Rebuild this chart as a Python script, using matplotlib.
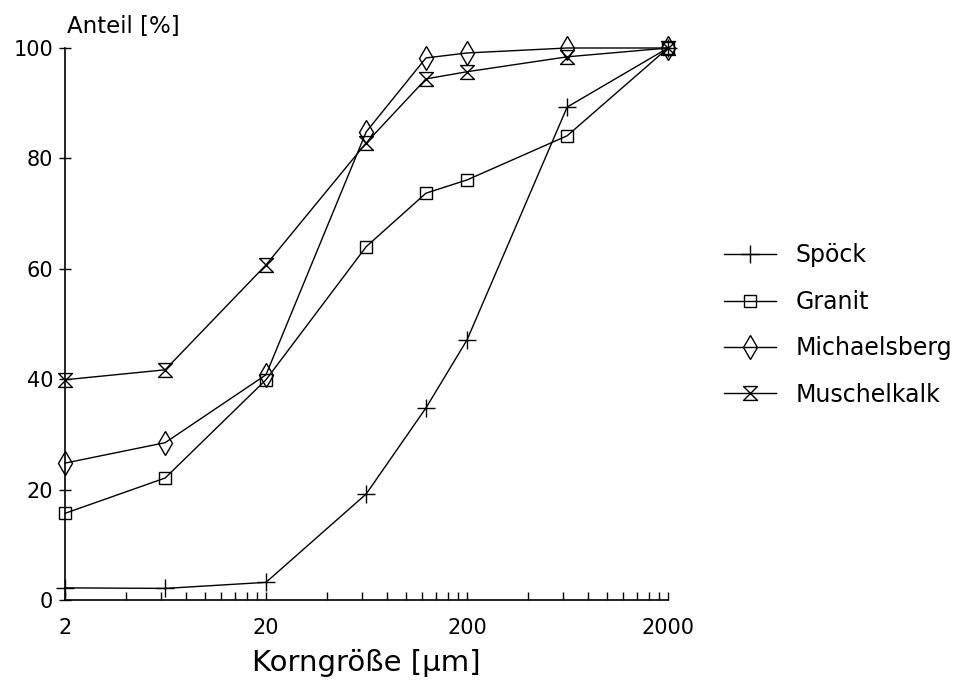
import matplotlib
matplotlib.use("Agg")
import matplotlib.pyplot as plt
from matplotlib.path import Path
from matplotlib.ticker import FixedLocator, NullFormatter

plt.rcParams['font.family'] = ['DejaVu Sans']

korngroesse = [2, 6.3, 20, 63, 125, 200, 630, 2000]
spoeck = [2.2, 2.1, 3.2, 19.2, 34.8, 47.1, 89.3, 100]
granit = [15.7, 22.1, 39.9, 64.0, 73.7, 76.1, 84.1, 100]
michaelsberg = [24.8, 28.5, 40.8, 84.8, 98.2, 99.1, 100, 100]
muschelkalk = [39.9, 41.7, 60.7, 82.8, 94.4, 95.7, 98.4, 100]
series_names = ["Spöck", "Granit", "Michaelsberg", "Muschelkalk"]
x_tick_labels = ["2", "20", "200", "2000"]
y_tick_labels = ["0", "20", "40", "60", "80", "100"]

hourglass = Path([(-1, 1), (1, 1), (-1, -1), (1, -1), (-1, 1)],
                 [Path.MOVETO, Path.LINETO, Path.LINETO, Path.LINETO, Path.CLOSEPOLY])

fig = plt.figure(figsize=(9.65, 6.84), dpi=100)
ax = fig.add_axes([65/965, 1-600/684, (668-65)/965, (600-48)/684])

styles = [dict(marker='+', markersize=13),
          dict(marker='s', markersize=9),
          dict(marker='d', markersize=12.5),
          dict(marker=hourglass, markersize=10)]
for vals, name, st in zip([spoeck, granit, michaelsberg, muschelkalk], series_names, styles):
    ax.plot(korngroesse, vals, color='black', linewidth=1.0, fillstyle='none',
            markeredgewidth=1.0, label=name, clip_on=False, **st)

ax.set_xscale('log')
ax.set_xlim(2, 2000)
ax.set_ylim(0, 100)
ax.spines['top'].set_visible(False)
ax.spines['right'].set_visible(False)
ax.spines['left'].set_linewidth(1.2)
ax.spines['bottom'].set_linewidth(1.2)

ax.xaxis.set_major_locator(FixedLocator([2, 20, 200, 2000]))
ax.set_xticklabels(x_tick_labels)
minors = []
for dec in [1, 10, 100]:
    for k in range(2, 10):
        minors.append(2 * k * dec)
ax.xaxis.set_minor_locator(FixedLocator(minors))
ax.xaxis.set_minor_formatter(NullFormatter())
ax.set_yticks([0, 20, 40, 60, 80, 100])
ax.set_yticklabels(y_tick_labels)

ax.tick_params(axis='x', which='both', direction='in', length=6, width=1.0,
               labelsize=15, pad=13)
ax.tick_params(axis='y', which='major', direction='inout', length=9, width=1.0,
               labelsize=15, pad=4)
ax.tick_params(axis='y', which='minor', length=0)

ax.set_xlabel("Korngröße [μm]", fontsize=21, labelpad=8)
fig.text(67/965, 1-26/684, "Anteil [%]", fontsize=16.5, va='center', ha='left')

leg = ax.legend(loc='upper left', bbox_to_anchor=(715/965, 1-234/684),
                bbox_transform=fig.transFigure, frameon=False, fontsize=17,
                handlelength=2.2, labelspacing=0.95, handletextpad=0.8,
                borderaxespad=0)

fig.savefig("out.png", dpi=100)
